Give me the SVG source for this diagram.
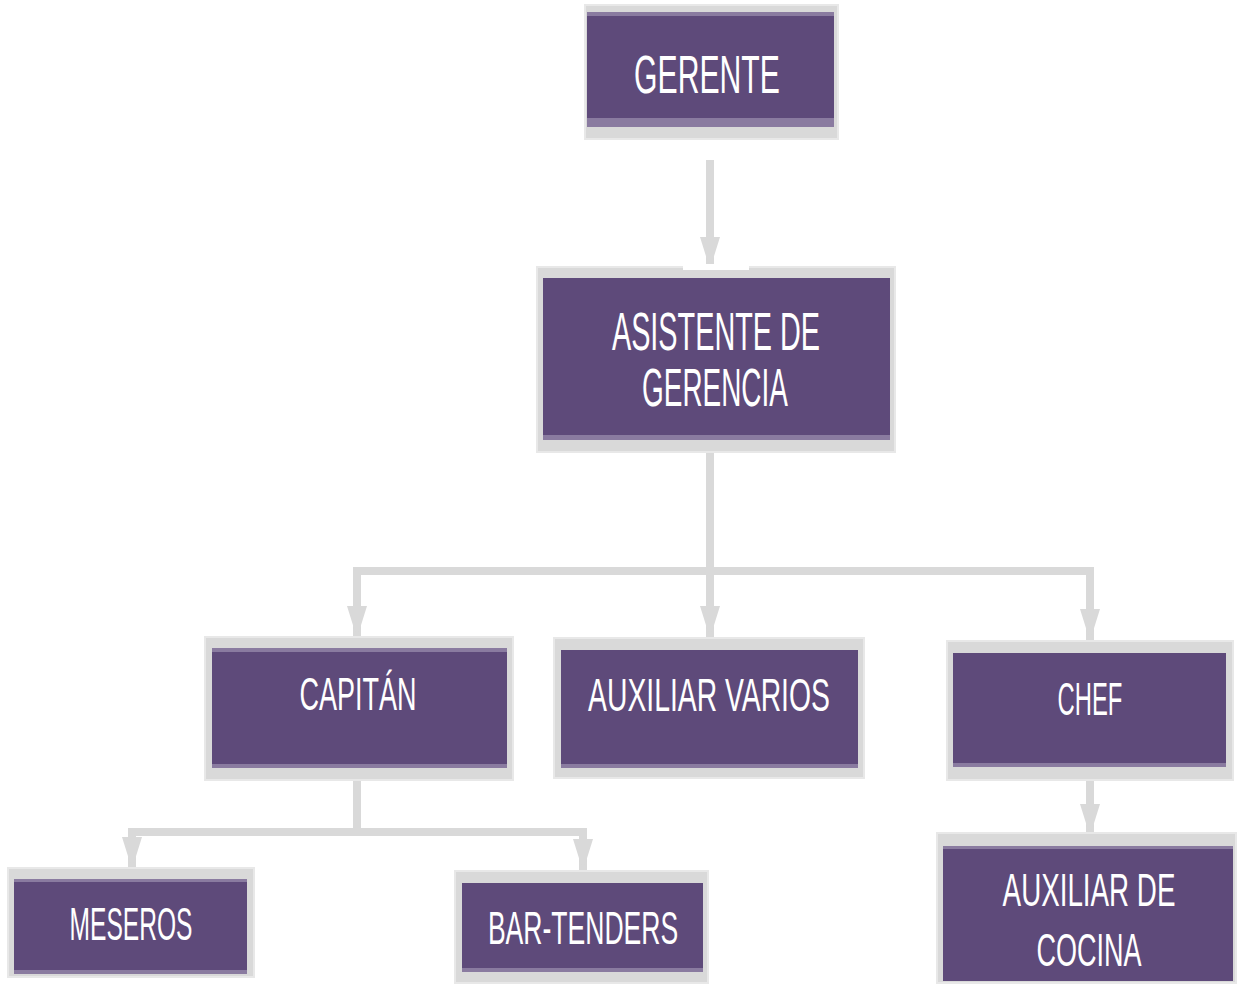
<svg xmlns="http://www.w3.org/2000/svg" width="1238" height="985" viewBox="0 0 1238 985">
<style>
.frame{fill:#d9d9d9;stroke:#e8e8e8;stroke-width:2}
.box{fill:#5e4a7a}
.band{fill:#8a7ba0}
.t{fill:#ffffff;font-family:"Liberation Sans",Arial,sans-serif;text-anchor:middle}
.big{font-size:54px}
.sm{font-size:46px}
.conn{fill:none;stroke:#d9d9d9;stroke-width:8;stroke-linejoin:miter}
</style>
<defs>
<marker id="arr" markerUnits="userSpaceOnUse" viewBox="0 0 32 20" markerWidth="32" markerHeight="20" refX="31" refY="10" orient="auto-start-reverse">
<path d="M0,0 L32,10 L0,20 z" fill="#d9d9d9"/>
</marker>
</defs>
<rect width="1238" height="985" fill="#ffffff"/>
<g id="connectors">
<path class="conn" d="M710,160 V268" marker-end="url(#arr)"/>
<path class="conn" d="M710,452 V637" marker-end="url(#arr)"/>
<path class="conn" d="M357,637 V571 H1090 V640" marker-start="url(#arr)" marker-end="url(#arr)"/>
<path class="conn" d="M357,780 V832"/>
<path class="conn" d="M132,868 V832 H583 V870" marker-start="url(#arr)" marker-end="url(#arr)"/>
<path class="conn" d="M1090,780 V835" marker-end="url(#arr)"/>
</g>
<g id="gerente">
<rect class="frame" x="585" y="5" width="253" height="134"/>
<rect class="box" x="587" y="12" width="247" height="115"/>
<rect class="band" x="587" y="12" width="247" height="4"/>
<rect class="band" x="587" y="118" width="247" height="9"/>
<text class="t big" transform="translate(707,0) scale(0.6,1)" x="0" y="93" textLength="243" lengthAdjust="spacingAndGlyphs">GERENTE</text>
</g>
<g id="asistente">
<rect class="frame" x="537" y="267" width="358" height="185"/>
<rect x="683" y="264" width="66" height="6" fill="#ffffff"/>
<rect class="box" x="543" y="278" width="347" height="162"/>
<rect class="band" x="543" y="435" width="347" height="5"/>
<text class="t big" transform="translate(716,0) scale(0.6,1)" x="0" y="350" textLength="347" lengthAdjust="spacingAndGlyphs">ASISTENTE DE</text>
<text class="t big" transform="translate(715,0) scale(0.6,1)" x="0" y="406" textLength="243" lengthAdjust="spacingAndGlyphs">GERENCIA</text>
</g>
<g id="capitan">
<rect class="frame" x="205" y="637" width="308" height="143"/>
<rect class="box" x="212" y="648" width="295" height="120"/>
<rect class="band" x="212" y="648" width="295" height="4"/>
<rect class="band" x="212" y="764" width="295" height="4"/>
<text class="t sm" transform="translate(358,0) scale(0.6,1)" x="0" y="710" textLength="195" lengthAdjust="spacingAndGlyphs">CAPITÁN</text>
</g>
<g id="auxiliar-varios">
<rect class="frame" x="554" y="638" width="310" height="140"/>
<rect class="box" x="561" y="650" width="297" height="118"/>
<rect class="band" x="561" y="764" width="297" height="4"/>
<text class="t sm" transform="translate(709,0) scale(0.6,1)" x="0" y="711" textLength="403" lengthAdjust="spacingAndGlyphs">AUXILIAR VARIOS</text>
</g>
<g id="chef">
<rect class="frame" x="947" y="641" width="286" height="139"/>
<rect class="box" x="953" y="653" width="273" height="114"/>
<rect class="band" x="953" y="763" width="273" height="4"/>
<text class="t sm" transform="translate(1090,0) scale(0.6,1)" x="0" y="715" textLength="108" lengthAdjust="spacingAndGlyphs">CHEF</text>
</g>
<g id="meseros">
<rect class="frame" x="8" y="868" width="246" height="109"/>
<rect class="box" x="14" y="879" width="233" height="95"/>
<rect class="band" x="14" y="879" width="233" height="3"/>
<rect class="band" x="14" y="970" width="233" height="4"/>
<text class="t sm" transform="translate(131,0) scale(0.6,1)" x="0" y="940" textLength="205" lengthAdjust="spacingAndGlyphs">MESEROS</text>
</g>
<g id="bar-tenders">
<rect class="frame" x="455" y="871" width="253" height="112"/>
<rect class="box" x="462" y="883" width="241" height="89"/>
<rect class="band" x="462" y="968" width="241" height="4"/>
<text class="t sm" transform="translate(583,0) scale(0.6,1)" x="0" y="944" textLength="317" lengthAdjust="spacingAndGlyphs">BAR-TENDERS</text>
</g>
<g id="auxiliar-cocina">
<rect class="frame" x="937" y="833" width="299" height="150"/>
<rect class="box" x="943" y="846" width="290" height="135"/>
<rect class="band" x="943" y="846" width="290" height="3"/>
<text class="t sm" transform="translate(1089,0) scale(0.6,1)" x="0" y="906" textLength="288" lengthAdjust="spacingAndGlyphs">AUXILIAR DE</text>
<text class="t sm" transform="translate(1089,0) scale(0.6,1)" x="0" y="966" textLength="175" lengthAdjust="spacingAndGlyphs">COCINA</text>
</g>
</svg>
